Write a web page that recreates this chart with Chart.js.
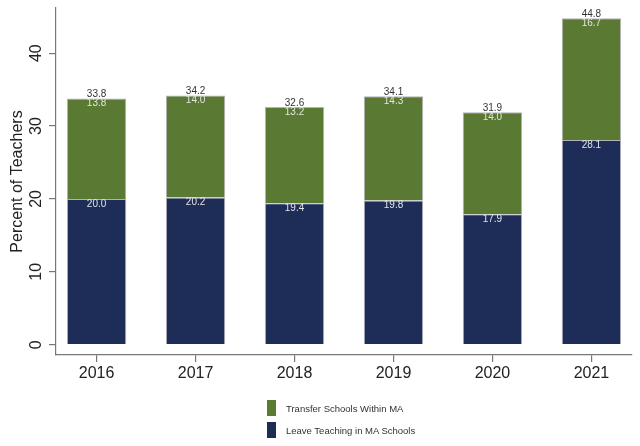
<!DOCTYPE html>
<html>
<head>
<meta charset="utf-8">
<script src="https://cdn.jsdelivr.net/npm/chart.js@4"></script>
<style>
  html, body { margin: 0; padding: 0; background: #fff; }
  #wrap { position: relative; width: 640px; height: 446px; }
  #legend { position: absolute; left: 267px; top: 400px; font: 9.5px "Liberation Sans", Arial, sans-serif; color: #333; }
  .item { display: flex; align-items: center; height: 16px; margin-bottom: 6px; }
  .sw { width: 9px; height: 16px; margin-right: 10px; }
</style>
</head>
<body>
<div id="wrap">
  <canvas id="chart" width="640" height="446"></canvas>
  <div id="legend"></div>
</div>
<script>
// Teacher mobility by year (percent of teachers)
const years = [2016, 2017, 2018, 2019, 2020, 2021];
const leaveTeaching = [20.0, 20.2, 19.4, 19.8, 17.9, 28.1];
const transferWithin = [13.8, 14.0, 13.2, 14.3, 14.0, 16.7];
const totals = [33.8, 34.2, 32.6, 34.1, 31.9, 44.8];
const yTicks = [0, 10, 20, 30, 40];

const FONT = '"Liberation Sans", Arial, sans-serif';

// value labels inside / on top of the stacked bars
const barLabels = {
  id: 'barLabels',
  afterDatasetsDraw(chart) {
    const ctx = chart.ctx;
    ctx.save();
    ctx.textAlign = 'center';
    ctx.textBaseline = 'middle';
    ctx.font = '10px ' + FONT;
    chart.data.datasets.forEach((ds, i) => {
      const meta = chart.getDatasetMeta(i);
      meta.data.forEach((bar, j) => {
        ctx.fillStyle = '#e4e4e4';
        ctx.fillText(ds.data[j].toFixed(1), bar.x, bar.y + 5);
      });
    });
    const top = chart.getDatasetMeta(chart.data.datasets.length - 1);
    top.data.forEach((bar, j) => {
      ctx.fillStyle = '#333';
      ctx.fillText(totals[j].toFixed(1), bar.x, bar.y - 4);
    });
    ctx.restore();
  }
};

const chart = new Chart(document.getElementById('chart'), {
  type: 'bar',
  data: {
    labels: years,
    datasets: [
      {
        label: 'Leave Teaching in MA Schools',
        data: leaveTeaching,
        backgroundColor: '#1e2c58',
        borderColor: 'rgba(170,170,180,0.9)',
        borderWidth: 1
      },
      {
        label: 'Transfer Schools Within MA',
        data: transferWithin,
        backgroundColor: '#5a7a33',
        borderColor: 'rgba(170,170,180,0.9)',
        borderWidth: 1
      }
    ]
  },
  options: {
    responsive: false,
    animation: false,
    layout: { padding: { top: 8, right: 8, left: 0, bottom: 0 } },
    datasets: { bar: { categoryPercentage: 1, barPercentage: 0.6 } },
    plugins: { legend: { display: false }, tooltip: { enabled: false } },
    scales: {
      x: {
        type: 'linear',
        stacked: true,
        offset: false,
        min: years[0] - 0.41,
        max: years[years.length - 1] + 0.41,
        afterBuildTicks: s => { s.ticks = years.map(v => ({ value: v })); },
        afterFit: s => { s.height = 91; s.paddingLeft = 0; s.paddingRight = 0; },
        border: { display: true, color: '#777', width: 1.2 },
        grid: { display: true, offset: false, drawOnChartArea: false, drawTicks: true, tickLength: 7, color: '#777', lineWidth: 1.2 },
        ticks: {
          padding: 2,
          maxRotation: 0,
          color: '#222',
          font: { family: FONT, size: 16 },
          callback: v => String(v)
        }
      },
      y: {
        stacked: true,
        min: -1.41,
        max: 46.2,
        afterBuildTicks: s => { s.ticks = yTicks.map(v => ({ value: v })); },
        afterFit: s => { s.width = 56; s.paddingTop = 0; s.paddingBottom = 0; },
        border: { display: true, color: '#777', width: 1.2 },
        grid: { display: true, drawOnChartArea: false, drawTicks: true, tickLength: 7, color: '#777', lineWidth: 1.2 },
        ticks: {
          minRotation: 90,
          maxRotation: 90,
          crossAlign: 'center',
          padding: 4,
          color: '#222',
          font: { family: FONT, size: 16 }
        },
        title: {
          display: true,
          text: 'Percent of Teachers',
          color: '#222',
          font: { family: FONT, size: 16 },
          padding: { top: 8, bottom: 0 }
        }
      }
    }
  },
  plugins: [barLabels]
});

// legend: transfer first, then leave (top segment listed first)
const legend = document.getElementById('legend');
chart.data.datasets.slice().reverse().forEach(ds => {
  const row = document.createElement('div');
  row.className = 'item';
  const sw = document.createElement('span');
  sw.className = 'sw';
  sw.style.background = ds.backgroundColor;
  const txt = document.createElement('span');
  txt.textContent = ds.label;
  row.appendChild(sw);
  row.appendChild(txt);
  legend.appendChild(row);
});
</script>
</body>
</html>
